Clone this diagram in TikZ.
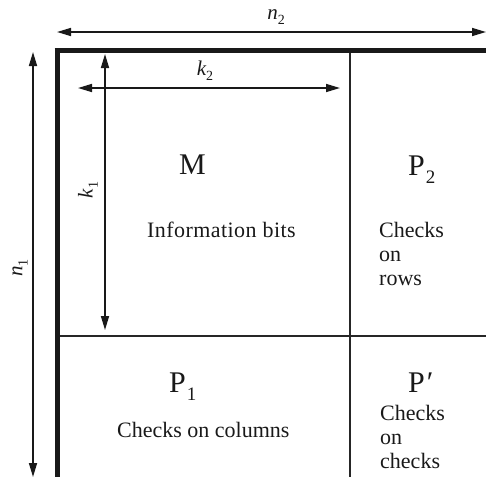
\documentclass[tikz,border=0pt]{standalone}
\usepackage{fontspec}
\setmainfont{Liberation Serif}
\usetikzlibrary{arrows.meta}
\newcommand{\subsc}[1]{\raisebox{-0.28em}{\fontsize{19}{19}\selectfont #1}}
\newcommand{\labsub}[1]{\raisebox{-0.25em}{\fontsize{14}{14}\selectfont #1}}
\begin{document}
\begin{tikzpicture}[x=1pt,y=-1pt,
  thickrule/.style={line width=5pt, draw=black!90},
  divider/.style={line width=2.2pt, draw=black!85},
  dimarrow/.style={line width=1.6pt, draw=black!90, {Triangle[length=14pt,width=8pt]}-{Triangle[length=14pt,width=8pt]}},
  txt/.style={anchor=base west, inner sep=0pt, font=\fontsize{22}{24}\selectfont, text=black!90},
  big/.style={anchor=base west, inner sep=0pt, font=\fontsize{30}{32}\selectfont, text=black!90},
  lab/.style={inner sep=0pt, font=\fontsize{21}{22}\selectfont\itshape, text=black!90}]
\useasboundingbox (0,0) rectangle (486,477);
% corners
\coordinate (tl) at (57,50.5);
\coordinate (tr) at (486,50.5);
\coordinate (bl) at (57,477);
\coordinate (mt) at (350,50.5);
\coordinate (mb) at (350,477);
\coordinate (hl) at (57,336);
\coordinate (hr) at (486,336);
% dividers
\draw[divider] (mt) -- (mb);
\draw[divider] (hl) -- (hr);
% thick border
\draw[thickrule] (54.5,50.5) -- (tr);
\draw[thickrule] (57,48) -- (bl);
% dimension arrows
\coordinate (n2a) at (57,32);
\coordinate (n2b) at (486,32);
\coordinate (n1a) at (33,52);
\coordinate (n1b) at (33,477);
\coordinate (k2a) at (78,88);
\coordinate (k2b) at (340,88);
\coordinate (k1a) at (105,54);
\coordinate (k1b) at (105,330);
\draw[dimarrow] (n2a) -- (n2b);
\draw[dimarrow] (n1a) -- (n1b);
\draw[dimarrow] (k2a) -- (k2b);
\draw[dimarrow] (k1a) -- (k1b);
\node[lab] (n2) at (276,17) {n\labsub{\upshape 2}};
\node[lab] (k2) at (205,71) {k\labsub{\upshape 2}};
\node[lab, rotate=90] (k1) at (88,190) {k\labsub{\upshape 1}};
\node[lab, rotate=90] (n1) at (20,268) {n\labsub{\upshape 1}};
% texts
\node[big] (M) at (179,174) {M};
\node[txt] (info) at (147,237) {\addfontfeature{LetterSpace=2}Information bits};
\node[big] (P2) at (408,175) {P\kern1pt\subsc{2}};
\node[txt] (c1) at (379,237) {Checks};
\node[txt] (c2) at (379,261) {on};
\node[txt] (c3) at (379,285) {rows};
\node[big] (P1) at (169,392) {P\kern1pt\subsc{1}};
\node[txt] (cc) at (117,437) {Checks on columns};
\node[big] (Pp) at (408,392) {P\kern2pt′};
\node[txt] (d1) at (380,420) {Checks};
\node[txt] (d2) at (380,444) {on};
\node[txt] (d3) at (380,468) {checks};
\end{tikzpicture}
\end{document}
